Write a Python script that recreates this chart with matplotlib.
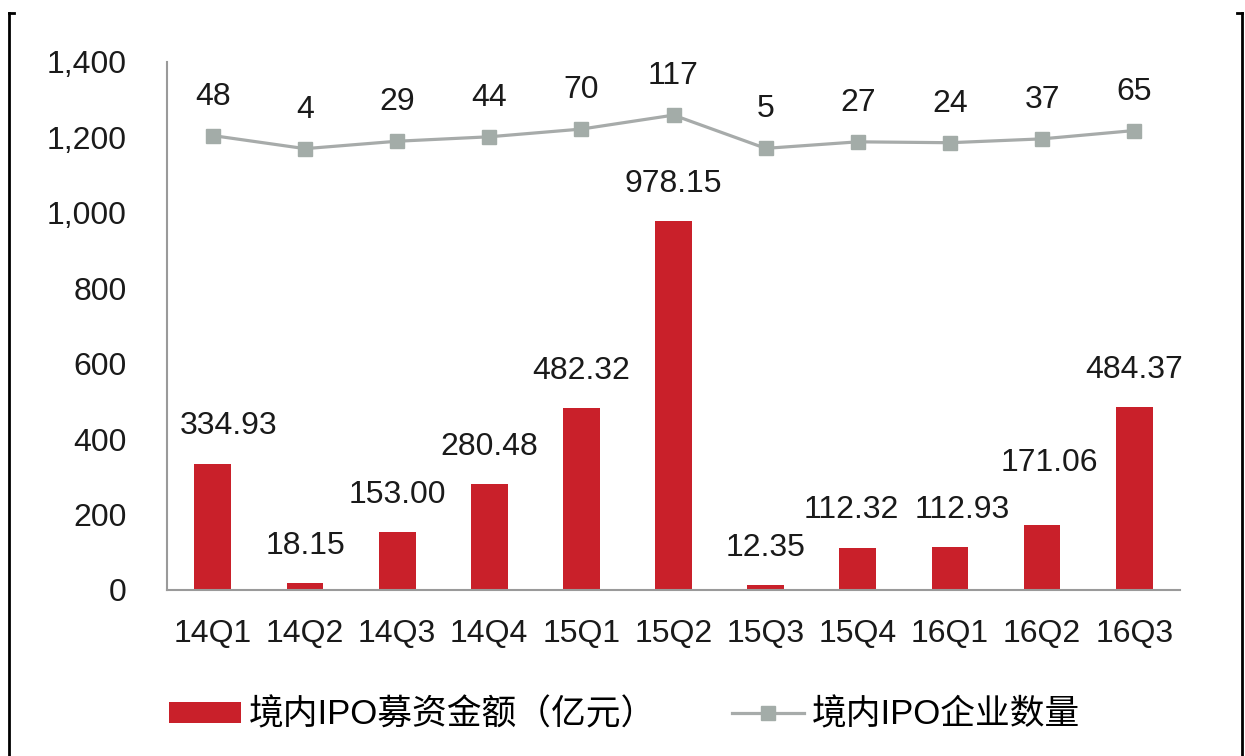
import matplotlib.pyplot as plt
import numpy as np
from matplotlib.lines import Line2D
from matplotlib.ticker import FuncFormatter

plt.rcParams['font.family'] = ['Liberation Sans', 'Noto Sans CJK SC']

# data
quarters = ['14Q1', '14Q2', '14Q3', '14Q4', '15Q1', '15Q2',
            '15Q3', '15Q4', '16Q1', '16Q2', '16Q3']
amount = [334.93, 18.15, 153.00, 280.48, 482.32, 978.15,
          12.35, 112.32, 112.93, 171.06, 484.37]
count = [48, 4, 29, 44, 70, 117, 5, 27, 24, 37, 65]

# hand-placed nudges of some bar labels in the original (points)
label_dx = [11, 0, 0, 0, 0, 0, 0, -5, 9, 5, 0]
label_dy = [0, 0, 0, 0, 0, 0, 0, 0, 0, 18, 0]

bar_color = '#C9202A'
line_color = '#A7ABAA'
marker_color = '#A3ACA8'
fs = 23

fig = plt.figure(figsize=(12.45, 7.56), dpi=100)
ax = fig.add_axes([0.134, 0.2196, 0.814, 0.6984])
x = np.arange(len(quarters))

bars = ax.bar(x, amount, width=0.4, color=bar_color, zorder=2)
for xi, v, dx, dy in zip(x, amount, label_dx, label_dy):
    ax.annotate(f'{v:.2f}', (xi, v), xytext=(dx, 27 + dy), textcoords='offset points',
                ha='center', va='center', fontsize=fs, color='#1a1a1a')

ax.set_xlim(-0.5, len(quarters) - 0.5)
ax.set_ylim(0, 1400)
ax.set_yticks(np.arange(0, 1401, 200))
ax.yaxis.set_major_formatter(FuncFormatter(lambda v, p: f'{int(v):,}'))
ax.set_xticks(x)
ax.set_xticklabels(quarters)
ax.tick_params(axis='both', length=0, labelsize=fs, colors='#1a1a1a')
ax.tick_params(axis='y', pad=29)
ax.tick_params(axis='x', pad=21)
for s in ['top', 'right']:
    ax.spines[s].set_visible(False)
for s in ['left', 'bottom']:
    ax.spines[s].set_color('#9a9a9a')
    ax.spines[s].set_linewidth(1.5)

ax2 = ax.twinx()
line, = ax2.plot(x, count, color=line_color, lw=2.3, marker='s', markersize=10.5,
                 markerfacecolor=marker_color, markeredgecolor=marker_color, zorder=3)
ax2.set_ylim(-1483, 296)
ax2.axis('off')
for xi, v in zip(x, count):
    ax2.annotate(f'{v}', (xi, v), xytext=(0, 28), textcoords='offset points',
                 ha='center', va='center', fontsize=fs, color='#1a1a1a')

fig.legend([bars, line], ['境内IPO募资金额（亿元）', '境内IPO企业数量'],
           loc='center', bbox_to_anchor=(0.5016, 0.054), ncol=2, frameon=False,
           fontsize=25, handlelength=2.07, handleheight=0.55, handletextpad=0.23,
           columnspacing=2.2)

# outer frame
fig.add_artist(Line2D([9 / 1245, 9 / 1245], [0, 1 - 13 / 756], color='black', lw=2))
fig.add_artist(Line2D([9 / 1245, 14 / 1245], [1 - 13 / 756, 1 - 13 / 756], color='black', lw=2))
fig.add_artist(Line2D([1242 / 1245, 1242 / 1245], [0, 1 - 13 / 756], color='black', lw=2))
fig.add_artist(Line2D([1237 / 1245, 1242 / 1245], [1 - 13 / 756, 1 - 13 / 756], color='black', lw=2))

fig.savefig('out.png', dpi=100)
